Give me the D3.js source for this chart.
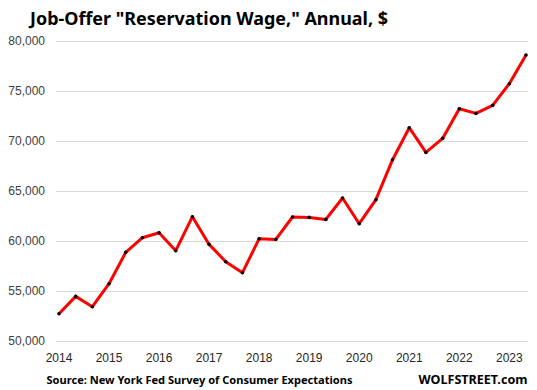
<!DOCTYPE html>
<html>
<head>
<meta charset="utf-8">
<script src="https://cdn.jsdelivr.net/npm/d3@7"></script>
<style>
    body { margin: 0; background: #fff; }
    svg { display: block; }
</style>
</head>
<body>
<div id="chart"></div>
<script>
// survey runs every 4 months: Mar, Jul, Nov (Mar 2014 .. Jul 2023)
const wages = [
    52730, 54460, 53430, 55730, 58860, 60330, 60830, 59030, 62430, 59660,
    57930, 56830, 60230, 60160, 62400, 62360, 62160, 64300, 61730, 64130,
    68130, 71330, 68860, 70260, 73230, 72760, 73560, 75730, 78600
];
const yearLabels = ['2014', '2015', '2016', '2017', '2018', '2019', '2020', '2021', '2022', '2023'];
const yTicks = [50000, 55000, 60000, 65000, 70000, 75000, 80000];

const config = {
    width: 537,
    height: 390,
    margin: { top: 41, left: 56, right: 9, bottom: 49 }
};

const plotW = config.width - config.margin.left - config.margin.right;
const plotH = config.height - config.margin.top - config.margin.bottom;

let svg = d3.select('#chart')
    .append('svg')
    .attr('width', config.width)
    .attr('height', config.height);

let x = d3.scalePoint()
    .domain(d3.range(wages.length))
    .range([3, plotW - 2]);

let y = d3.scaleLinear()
    .domain([50000, 80000])
    .range([plotH, 0]);

let g = svg.append('g')
    .attr('transform', `translate(${config.margin.left},${config.margin.top})`);

// gridlines + y labels
let yAxis = g.append('g')
    .call(d3.axisLeft(y)
        .tickValues(yTicks)
        .tickSize(-plotW)
        .tickPadding(11)
        .tickFormat(d3.format(',')));
yAxis.select('.domain').remove();
yAxis.selectAll('line').attr('stroke', '#d9d9d9');
yAxis.selectAll('text')
    .attr('fill', '#404040')
    .style('font-family', 'Liberation Sans, Arial, sans-serif')
    .style('font-size', '12px');

// x labels, one every third survey (March of each year)
g.append('g')
    .selectAll('text')
    .data(yearLabels)
    .enter()
    .append('text')
    .attr('x', (d, i) => x(i * 3))
    .attr('y', plotH + 21)
    .attr('text-anchor', 'middle')
    .attr('fill', '#262626')
    .style('font-family', 'Liberation Sans, Arial, sans-serif')
    .style('font-size', '12px')
    .text(d => d);

let line = d3.line()
    .x((d, i) => x(i))
    .y(d => y(d));

g.append('path')
    .datum(wages)
    .attr('d', line)
    .attr('fill', 'none')
    .attr('stroke', '#ff0000')
    .attr('stroke-width', 3)
    .attr('stroke-linejoin', 'round');

g.selectAll('.dot')
    .data(wages)
    .enter()
    .append('circle')
    .attr('class', 'dot')
    .attr('cx', (d, i) => x(i))
    .attr('cy', d => y(d))
    .attr('r', 1.8)
    .attr('fill', '#000');

// title and footer
svg.append('text')
    .attr('x', 30)
    .attr('y', 25)
    .attr('textLength', 358)
    .attr('lengthAdjust', 'spacingAndGlyphs')
    .style('font-family', 'Noto Sans, sans-serif')
    .style('font-weight', 'bold')
    .style('font-size', '18.5px')
    .attr('fill', '#000')
    .text('Job-Offer "Reservation Wage," Annual, $');

svg.append('text')
    .attr('x', 46.5)
    .attr('y', 384)
    .attr('textLength', 306)
    .attr('lengthAdjust', 'spacingAndGlyphs')
    .style('font-family', 'Noto Sans, sans-serif')
    .style('font-weight', 'bold')
    .style('font-size', '11px')
    .attr('fill', '#000')
    .text('Source: New York Fed Survey of Consumer Expectations');

svg.append('text')
    .attr('x', 418.5)
    .attr('y', 384)
    .attr('textLength', 109)
    .attr('lengthAdjust', 'spacingAndGlyphs')
    .style('font-family', 'Noto Sans, sans-serif')
    .style('font-weight', 'bold')
    .style('font-size', '12.5px')
    .attr('fill', '#000')
    .text('WOLFSTREET.com');
</script>
</body>
</html>
